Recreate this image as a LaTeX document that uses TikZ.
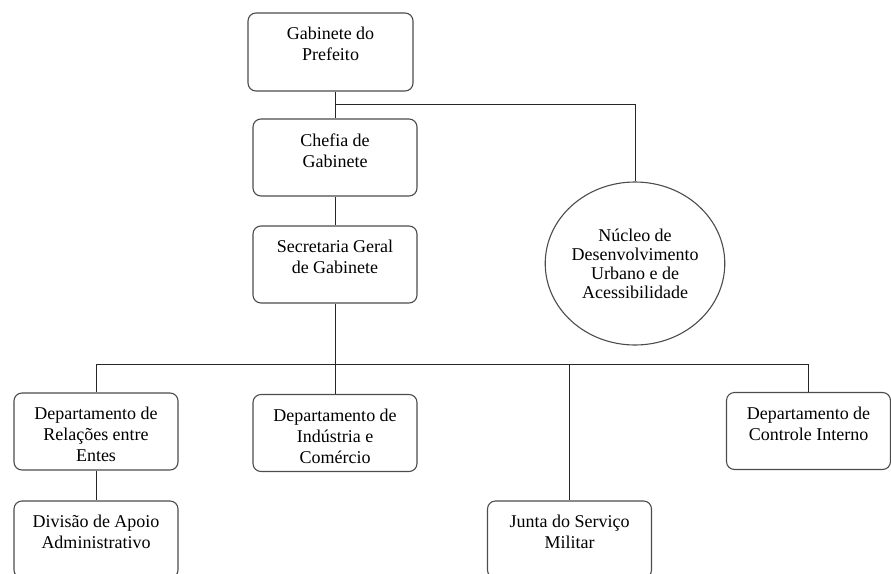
\documentclass[tikz,border=0pt]{standalone}
\usepackage{fontspec}
\setmainfont{Liberation Serif}
\usepackage{tikz}
\usetikzlibrary{shapes.geometric}

\newcommand{\unittext}[1]{\parbox[c][77pt][t]{160pt}{\centering\vspace*{14.5pt}#1}}

\begin{document}
\begin{tikzpicture}[x=1pt,y=-1pt,
  every node/.style={draw=black!70,line width=1.1pt,inner sep=0pt,font=\fontsize{18}{21}\selectfont},
  unit/.style={rounded corners=8pt,minimum width=164pt,minimum height=77pt},
  core/.style={ellipse,minimum width=178pt,minimum height=163pt,align=center,font=\fontsize{18}{19}\selectfont},
  link/.style={draw=black!85,line width=0.8pt}]
\useasboundingbox (0,0) rectangle (891,573);
\clip (0,0) rectangle (891,573);

\node[unit, minimum width=165pt, minimum height=78pt] (gab) at (330.5,52) {\parbox[c][78pt][t]{160pt}{\centering\vspace*{14.5pt}Gabinete do\\Prefeito}};
\node[unit] (chefia) at (335,157.5) {\unittext{Chefia de\\Gabinete}};
\node[unit] (secr) at (335,264.5) {\unittext{Secretaria Geral\\de Gabinete}};
\node[core] (nucleo) at (635,263.5) {Núcleo de\\Desenvolvimento\\Urbano e de\\Acessibilidade};

\node[unit] (rel) at (96,431.5) {\unittext{Departamento de\\Relações entre\\Entes}};
\node[unit] (ind) at (335,433) {\unittext{Departamento de\\Indústria e\\Comércio}};
\node[unit] (ctl) at (808.5,431) {\unittext{Departamento de\\Controle Interno}};
\node[unit] (div) at (96,539.5) {\unittext{Divisão de Apoio\\Administrativo}};
\node[unit] (junta) at (569.5,539.5) {\unittext{Junta do Serviço\\Militar}};

\coordinate (topbus) at (335,104);
\coordinate (bus) at (335,364);

\draw[link] (chefia.north |- gab.south) -- (chefia.north);
\draw[link] (chefia.north |- topbus) -| (nucleo.north);
\draw[link] (chefia) -- (secr);
\draw[link] (secr) -- (ind);
\draw[link] (rel.north) |- (ctl.north |- bus) -- (ctl.north);
\draw[link] (junta.north |- bus) -- (junta.north);
\draw[link] (rel) -- (div);
\end{tikzpicture}
\end{document}
